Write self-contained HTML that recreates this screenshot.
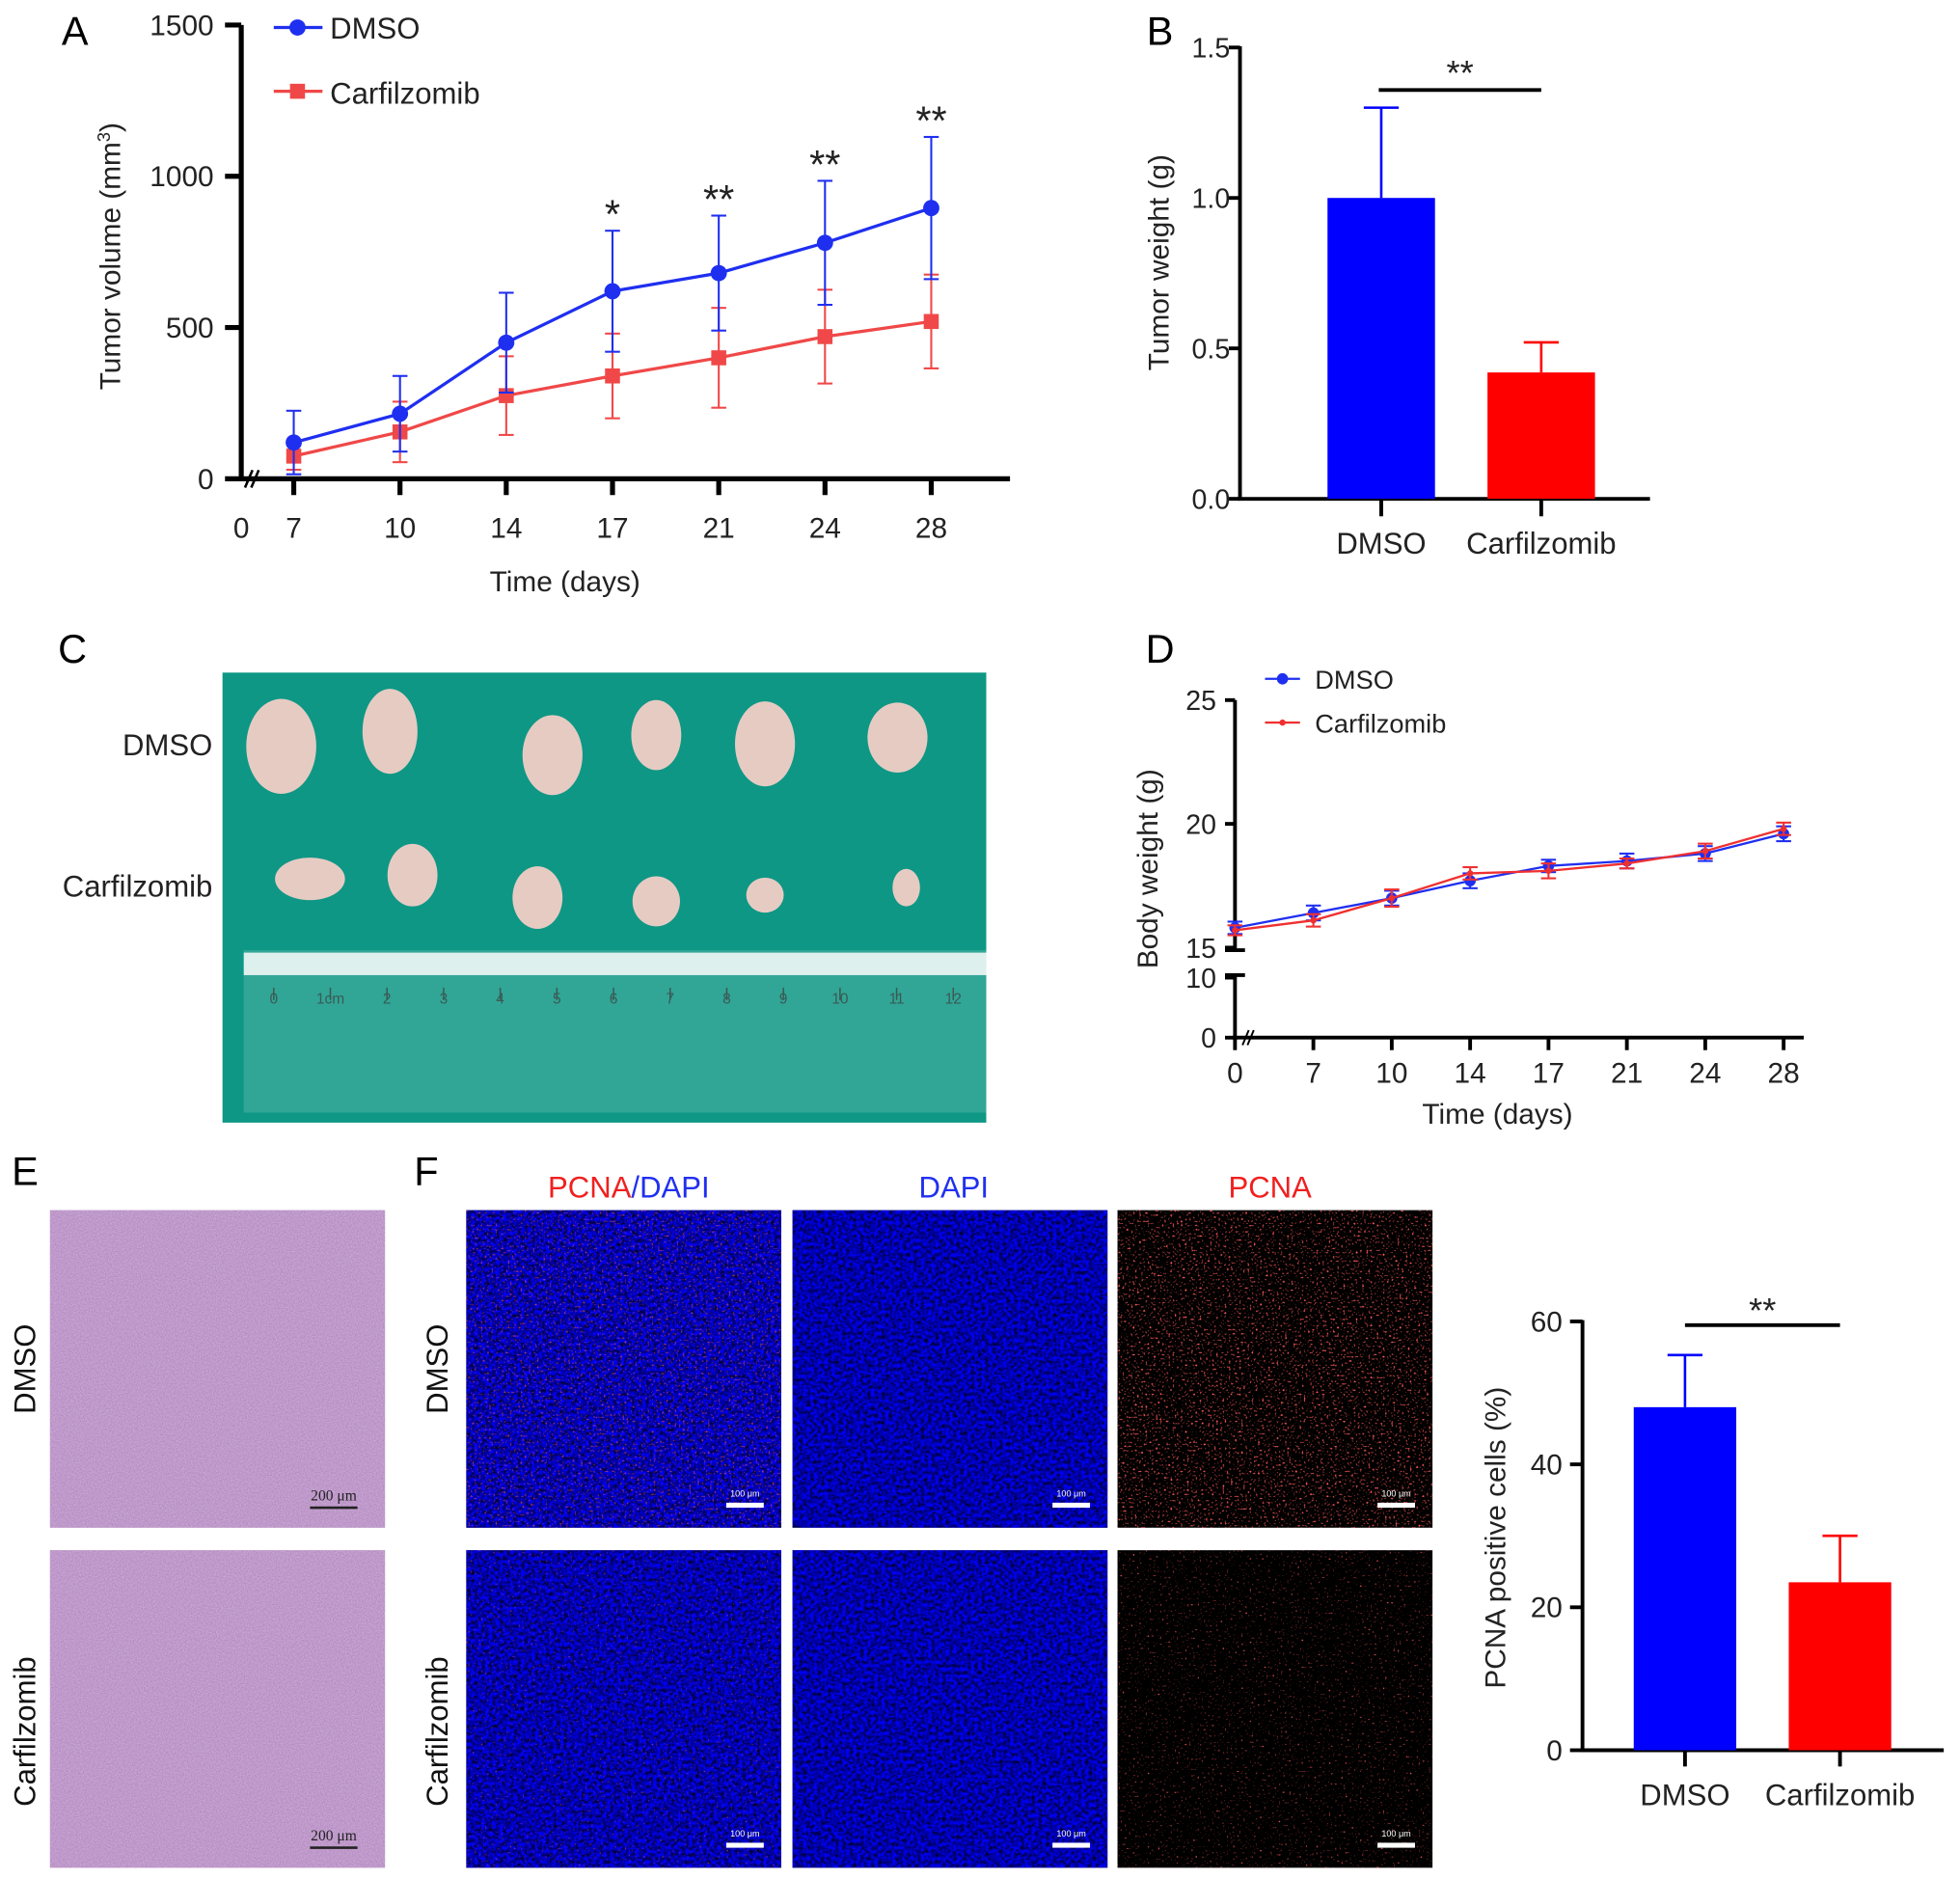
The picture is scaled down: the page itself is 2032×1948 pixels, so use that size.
<!DOCTYPE html>
<html><head><meta charset="utf-8"><style>
html,body{margin:0;padding:0;background:#fff;}
svg{display:block;font-family:"Liberation Sans",Arial,sans-serif;}
</style></head><body>
<svg id="fig" width="2032" height="1948" viewBox="0 0 1568 1503" preserveAspectRatio="none" xmlns="http://www.w3.org/2000/svg">
<defs>
<filter id="heTex" x="0" y="0" width="1" height="1"><feTurbulence type="fractalNoise" baseFrequency="0.9" numOctaves="2" seed="3"/><feColorMatrix type="matrix" values="0 0 0 0 0.66  0 0 0 0 0.47  0 0 0 0 0.72  0 0 0 -0.9 0.95"/><feComposite in2="SourceGraphic" operator="in"/></filter>
<filter id="blueTex" x="0" y="0" width="1" height="1"><feTurbulence type="fractalNoise" baseFrequency="0.35" numOctaves="3" seed="7"/><feColorMatrix type="matrix" values="0 0 0 0 0  0 0 0 0 0  0 0 0 0 0.9  0 0 0 -1.6 1.5"/><feComposite in2="SourceGraphic" operator="in"/></filter>
<filter id="redDots" x="0" y="0" width="1" height="1"><feTurbulence type="fractalNoise" baseFrequency="0.6" numOctaves="1" seed="11"/><feColorMatrix type="matrix" values="0 0 0 0 1  0 0 0 0 0.1  0 0 0 0 0.1  5 0 0 0 -2.9"/><feComposite in2="SourceGraphic" operator="in"/></filter>
<filter id="redDots2" x="0" y="0" width="1" height="1"><feTurbulence type="fractalNoise" baseFrequency="0.6" numOctaves="1" seed="5"/><feColorMatrix type="matrix" values="0 0 0 0 1  0 0 0 0 0.1  0 0 0 0 0.1  5 0 0 0 -3.2"/><feComposite in2="SourceGraphic" operator="in"/></filter>
</defs>
<g id="panels"></g>
</svg>
<script>
// ---- Panel A data ----
const aDays = ["7","10","14","17","21","24","28"];
const aDmso = [120,215,450,620,680,780,895];
const aDmsoSd = [105,125,165,200,190,205,235];
const aCarf = [75,155,275,340,400,470,520];
const aCarfSd = [45,100,130,140,165,155,155];
const aStars = ["","","","*","**","**","**"];
const aYTicks = [0,500,1000,1500];
// ---- Panel B data ----
const bGroups = ["DMSO","Carfilzomib"];
const bMeans = [1.0,0.42];
const bSd = [0.3,0.1];
const bYTicks = ["0.0","0.5","1.0","1.5"];
// ---- Panel D data ----
const dDays = ["0","7","10","14","17","21","24","28"];
const dDmso = [15.8,16.4,17.0,17.7,18.3,18.5,18.8,19.6];
const dDmsoSd = [0.25,0.3,0.3,0.3,0.25,0.3,0.3,0.3];
const dCarf = [15.7,16.1,17.0,18.0,18.1,18.4,18.9,19.8];
const dCarfSd = [0.2,0.25,0.35,0.25,0.3,0.2,0.3,0.25];
const dYTicksUpper = [15,20,25];
const dYTicksLower = [0,10];
// ---- Panel F data ----
const fGroups = ["DMSO","Carfilzomib"];
const fMeans = [48,23.5];
const fSd = [7.3,6.5];
const fYTicks = [0,20,40,60];

const NS="http://www.w3.org/2000/svg";
const root=document.getElementById('panels');
function el(tag,attrs,parent,text){const e=document.createElementNS(NS,tag);for(const k in attrs)e.setAttribute(k,attrs[k]);if(text!==undefined)e.textContent=text;(parent||root).appendChild(e);return e;}
function line(x1,y1,x2,y2,stroke,w,p){return el('line',{x1,y1,x2,y2,stroke,'stroke-width':w},p);}
function txt(x,y,s,size,anchor,fill,p,extra){const a={x,y,'font-size':size,'text-anchor':anchor||'middle',fill:fill||'#111'};if(extra)Object.assign(a,extra);return el('text',a,p,s);}

// ================= Panel A =================
const gA=el('g',{});


const ax=i=>235+i*85;
const ay=v=>383-v*(363/1500);
txt(60,36,"A",32,'middle','#000',gA);
line(193,20,193,385,'#000',4,gA);
line(191,383,808,383,'#000',4,gA);
aYTicks.forEach(v=>{line(180,ay(v),193,ay(v),'#000',4,gA);const t=txt(171,ay(v)+8,String(v),23,'end','#222',gA);});
txt(193,430,"0",23,'middle','#222',gA);
line(196,390,202,376,'#000',2,gA);line(201,390,207,376,'#000',2,gA);
aDays.forEach((d,i)=>{line(ax(i),383,ax(i),396,'#000',4,gA);const t=txt(ax(i),430,d,23,'middle','#222',gA);});
const yta=txt(0,0,"Tumor volume (mm",23,'middle','#222',gA,{transform:'translate(96,205) rotate(-90)'});

el('tspan',{'font-size':14,dy:-8},yta,"3");el('tspan',{dy:8},yta,")");
const xta=txt(452,473,"Time (days)",23,'middle','#222',gA);
function series(vals,sd,xf,yf,color,marker,g,w,ms){
  vals.forEach((v,i)=>{const x=xf(i);line(x,yf(v-sd[i]),x,yf(v+sd[i]),color,1.6,g);line(x-6,yf(v+sd[i]),x+6,yf(v+sd[i]),color,1.6,g);line(x-6,yf(v-sd[i]),x+6,yf(v-sd[i]),color,1.6,g);});
  const pl=el('polyline',{points:vals.map((v,i)=>xf(i)+','+yf(v)).join(' '),fill:'none',stroke:color,'stroke-width':w},g);
  
  vals.forEach((v,i)=>{let m;if(marker==='c')m=el('circle',{cx:xf(i),cy:yf(v),r:ms,fill:color},g);else m=el('rect',{x:xf(i)-ms,y:yf(v)-ms,width:2*ms,height:2*ms,fill:color},g);});
}
const gAc=el('g',{},gA);
series(aCarf,aCarfSd,ax,ay,'#f04848','s',gAc,2.5,6);
const gAd=el('g',{},gA);
series(aDmso,aDmsoSd,ax,ay,'#1f2ff0','c',gAd,2.5,6.5);
aStars.forEach((s,i)=>{if(!s)return;const t=txt(ax(i),ay(aDmso[i]+aDmsoSd[i])-2,s,32,'middle','#222',gA);});
const lgA=el('g',{},gA);
line(219,22,258,22,'#1f2ff0',2.5,lgA);el('circle',{cx:238,cy:22,r:6.5,fill:'#1f2ff0'},lgA);txt(264,31,"DMSO",24,'start','#222',lgA);
line(219,73,258,73,'#f04848',2.5,lgA);el('rect',{x:232,y:67,width:12,height:12,fill:'#f04848'},lgA);txt(264,83,"Carfilzomib",24,'start','#222',lgA);

// ================= Panel B =================
const gB=el('g',{});


const by=v=>399-v*(361/1.5);
const bx=i=>1105+i*128;
txt(928,36,"B",32,'middle','#000',gB);
line(992,37,992,400,'#000',3,gB);line(990,399,1320,399,'#000',3,gB);
bYTicks.forEach(s=>{const v=parseFloat(s);line(983,by(v),992,by(v),'#000',3,gB);txt(984,by(v)+8,s,22,'end','#222',gB);});
const bCol=['#0000ff','#ff0000'];
bMeans.forEach((m,i)=>{
  line(bx(i),by(m),bx(i),by(m+bSd[i]),bCol[i],2,gB);line(bx(i)-14,by(m+bSd[i]),bx(i)+14,by(m+bSd[i]),bCol[i],2,gB);
  const r=el('rect',{x:bx(i)-43,y:by(m),width:86,height:by(0)-by(m),fill:bCol[i]},gB);
  
  line(bx(i),399,bx(i),413,'#000',3,gB);
  txt(bx(i),443,bGroups[i],24,'middle','#222',gB);
});
line(1103,72,1233,72,'#000',3,gB);txt(1168,68,"**",28,'middle','#222',gB);
txt(0,0,"Tumor weight (g)",23,'middle','#222',gB,{transform:'translate(935,210) rotate(-90)'});

// ================= Panel C (photo) =================
const gC=el('g',{});


txt(58,530,"C",32,'middle','#000',gC);
txt(170,604,"DMSO",24,'end','#222',gC);txt(170,717,"Carfilzomib",24,'end','#222',gC);
el('rect',{x:178,y:538,width:611,height:360,fill:'#0e9785'},gC);
const tum=[[225,597,28,38],[312,585,22,34],[442,604,24,32],[525,588,20,28],[612,595,24,34],[718,590,24,28],[248,703,28,17],[330,700,20,25],[430,718,20,25],[525,721,19,20],[612,716,15,14],[725,710,11,15]];
tum.forEach(t=>{const e=el('ellipse',{cx:t[0],cy:t[1],rx:t[2],ry:t[3],fill:'#e6cbc3'},gC);});
const ru=el('g',{},gC);
el('rect',{x:195,y:760,width:594,height:130,fill:'#4fb3a5',opacity:0.55},ru);
el('rect',{x:195,y:762,width:594,height:18,fill:'#f2f8f6',opacity:0.9},ru);
for(let i=0;i<=12;i++){const x=219+i*45.3;line(x,790,x,800,'#3a5b55',1.2,ru);txt(x,803,i===1?"1cm":String(i),12,'middle','#3a5b55',ru);}

// ================= Panel D =================
const gD=el('g',{});


const dx=i=>988+i*62.7;
const dy=v=>v>=15?758-(v-15)*(198/10):830-v*4.8;
txt(928,530,"D",32,'middle','#000',gD);
line(988,560,988,760,'#000',3,gD);line(988,780,988,832,'#000',3,gD);
line(980,760,996,760,'#000',3,gD);line(980,780,996,780,'#000',3,gD);
line(986,830,1443,830,'#000',3,gD);
dYTicksUpper.concat(dYTicksLower).forEach(v=>{line(980,dy(v),988,dy(v),'#000',3,gD);txt(973,dy(v)+8,String(v),22,'end','#222',gD);});
line(994,836,999,824,'#000',1.5,gD);line(998,836,1003,824,'#000',1.5,gD);
dDays.forEach((d,i)=>{line(dx(i),830,dx(i),840,'#000',3,gD);txt(dx(i),866,d,23,'middle','#222',gD);});
txt(1198,899,"Time (days)",23,'middle','#222',gD);
txt(0,0,"Body weight (g)",23,'middle','#222',gD,{transform:'translate(926,695) rotate(-90)'});
const gDd=el('g',{},gD);
series(dDmso,dDmsoSd,dx,dy,'#1f2ff0','c',gDd,1.8,4.5);
const gDc=el('g',{},gD);
series(dCarf,dCarfSd,dx,dy,'#f03030','c',gDc,1.8,2.5);
const lgD=el('g',{},gD);
line(1012,543,1040,543,'#1f2ff0',1.8,lgD);el('circle',{cx:1026,cy:543,r:4.5,fill:'#1f2ff0'},lgD);txt(1052,551,"DMSO",21,'start','#222',lgD);
line(1012,578,1040,578,'#f03030',1.8,lgD);el('circle',{cx:1026,cy:578,r:2.5,fill:'#f03030'},lgD);txt(1052,586,"Carfilzomib",21,'start','#222',lgD);

// ================= Panel E =================
const gE=el('g',{});


txt(20,948,"E",32,'middle','#000',gE);
[[968,"DMSO",1095],[1240,"Carfilzomib",1385]].forEach(r=>{
  el('rect',{x:40,y:r[0],width:268,height:254,fill:'#a97cb8'},gE);
  el('rect',{x:40,y:r[0],width:268,height:254,fill:'#fff',filter:'url(#heTex)'},gE);
  line(248,r[0]+238,286,r[0]+238,'#222',2,gE);txt(267,r[0]+232,"200 μm",12,'middle','#222',gE,{'font-family':'Liberation Serif, serif'});
  txt(0,0,r[1],24,'middle','#111',gE,{transform:`translate(28,${r[2]}) rotate(-90)`});
});

// ================= Panel F images =================
const gF=el('g',{});


txt(341,948,"F",32,'middle','#000',gF);
const hd=txt(503,958,"",24,'middle','#f02020',gF);el('tspan',{},hd,"PCNA");el('tspan',{fill:'#2030f0'},hd,"/DAPI");
txt(763,958,"DAPI",24,'middle','#2030f0',gF);txt(1016,958,"PCNA",24,'middle','#f02020',gF);
const cols=[373,634,894];
[[968,"DMSO",1095,'url(#redDots)'],[1240,"Carfilzomib",1385,'url(#redDots2)']].forEach(r=>{
  cols.forEach((cx,ci)=>{
    el('rect',{x:cx,y:r[0],width:252,height:254,fill:'#000'},gF);
    if(ci<2){el('rect',{x:cx,y:r[0],width:252,height:254,fill:'#fff',filter:'url(#blueTex)'},gF);}
    if(ci!==1){el('rect',{x:cx,y:r[0],width:252,height:254,fill:'#fff',filter:r[3],opacity:ci===0?0.6:1},gF);}
    el('rect',{x:cx+208,y:r[0]+234,width:30,height:4,fill:'#fff'},gF);
    txt(cx+223,r[0]+229,"100 μm",7,'middle','#fff',gF);
  });
  txt(0,0,r[1],24,'middle','#111',gF,{transform:`translate(358,${r[2]}) rotate(-90)`});
});

// ================= Panel F chart =================
const gG=el('g',{});


const fy=v=>1400-v*(343/60);
const fx=i=>1348+i*124;
line(1266,1056,1266,1401,'#000',3,gG);line(1264,1400,1555,1400,'#000',3,gG);
fYTicks.forEach(v=>{line(1256,fy(v),1266,fy(v),'#000',3,gG);txt(1250,fy(v)+8,String(v),23,'end','#222',gG);});
const fCol=['#0000ff','#ff0000'];
fMeans.forEach((m,i)=>{
  line(fx(i),fy(m),fx(i),fy(m+fSd[i]),fCol[i],2,gG);line(fx(i)-14,fy(m+fSd[i]),fx(i)+14,fy(m+fSd[i]),fCol[i],2,gG);
  const r=el('rect',{x:fx(i)-41,y:fy(m),width:82,height:fy(0)-fy(m),fill:fCol[i]},gG);
  
  line(fx(i),1400,fx(i),1413,'#000',3,gG);
  txt(fx(i),1444,fGroups[i],24,'middle','#222',gG);
});
line(1348,1060,1472,1060,'#000',3,gG);txt(1410,1058,"**",28,'middle','#222',gG);
txt(0,0,"PCNA positive cells (%)",23,'middle','#222',gG,{transform:'translate(1204,1230) rotate(-90)'});
</script>
</body></html>
